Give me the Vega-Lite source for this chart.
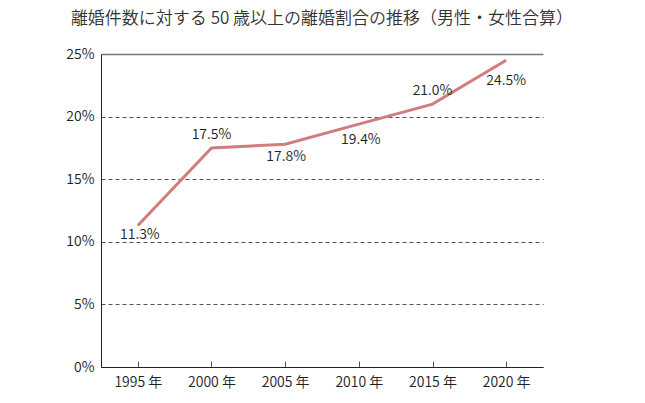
{
  "$schema": "https://vega.github.io/schema/vega-lite/v6.json",
  "width": 442,
  "height": 313,
  "autosize": {"type": "none"},
  "padding": {"left": 101, "top": 54, "right": 102, "bottom": 36},
  "background": "white",
  "config": {
    "view": {"stroke": null},
    "font": "Noto Sans CJK JP"
  },
  "title": {
    "text": "離婚件数に対する 50 歳以上の離婚割合の推移（男性・女性合算）",
    "fontSize": 17,
    "fontWeight": 350,
    "color": "#333333",
    "anchor": "middle",
    "offset": 19,
    "font": "Noto Sans CJK JP"
  },
  "data": {
    "values": [
      {"year": "1995 年", "rate": 0.113, "label": "11.3%"},
      {"year": "2000 年", "rate": 0.175, "label": "17.5%"},
      {"year": "2005 年", "rate": 0.178, "label": "17.8%"},
      {"year": "2010 年", "rate": 0.194, "label": "19.4%"},
      {"year": "2015 年", "rate": 0.21, "label": "21.0%"},
      {"year": "2020 年", "rate": 0.245, "label": "24.5%"}
    ]
  },
  "encoding": {
    "x": {
      "field": "year",
      "type": "ordinal",
      "scale": {"type": "point", "padding": 0.5},
      "axis": {
        "title": null,
        "labelAngle": 0,
        "labelFontSize": 14,
        "labelFontWeight": 350,
        "labelColor": "#222222",
        "domainColor": "#222222",
        "tickColor": "#555555",
        "tickSize": -6,
        "labelPadding": 14,
        "grid": false
      }
    },
    "y": {
      "field": "rate",
      "type": "quantitative",
      "scale": {"domain": [0, 0.25], "nice": false},
      "axis": {
        "title": null,
        "format": ".0%",
        "values": [0, 0.05, 0.1, 0.15, 0.2, 0.25],
        "labelFontSize": 14,
        "labelFontWeight": 350,
        "labelColor": "#222222",
        "domainColor": "#222222",
        "ticks": false,
        "labelPadding": 7,
        "grid": true,
        "gridColor": {"condition": {"test": "datum.value >= 0.25", "value": "#777777"}, "value": "#555555"},
        "gridDash": {"condition": {"test": "datum.value >= 0.25", "value": []}, "value": [4, 3]},
        "gridWidth": {"condition": {"test": "datum.value >= 0.25", "value": 1.5}, "value": 1}
      }
    }
  },
  "layer": [
    {"mark": {"type": "line", "color": "#d07d7d", "strokeWidth": 3}},
    {
      "transform": [{"filter": "datum.year == '1995 年'"}],
      "mark": {"type": "text", "fontSize": 14, "fontWeight": 350, "color": "#222222", "dx": 2, "dy": 9, "baseline": "middle"},
      "encoding": {"text": {"field": "label"}}
    },
    {
      "transform": [{"filter": "datum.year == '2000 年' || datum.year == '2015 年'"}],
      "mark": {"type": "text", "fontSize": 14, "fontWeight": 350, "color": "#222222", "dy": -13, "baseline": "middle"},
      "encoding": {"text": {"field": "label"}}
    },
    {
      "transform": [{"filter": "datum.year == '2005 年'"}],
      "mark": {"type": "text", "fontSize": 14, "fontWeight": 350, "color": "#222222", "dx": 1, "dy": 13, "baseline": "middle"},
      "encoding": {"text": {"field": "label"}}
    },
    {
      "transform": [{"filter": "datum.year == '2010 年'"}],
      "mark": {"type": "text", "fontSize": 14, "fontWeight": 350, "color": "#222222", "dx": 2, "dy": 16, "baseline": "middle"},
      "encoding": {"text": {"field": "label"}}
    },
    {
      "transform": [{"filter": "datum.year == '2020 年'"}],
      "mark": {"type": "text", "fontSize": 14, "fontWeight": 350, "color": "#222222", "dy": 21, "baseline": "middle"},
      "encoding": {"text": {"field": "label"}}
    }
  ]
}
